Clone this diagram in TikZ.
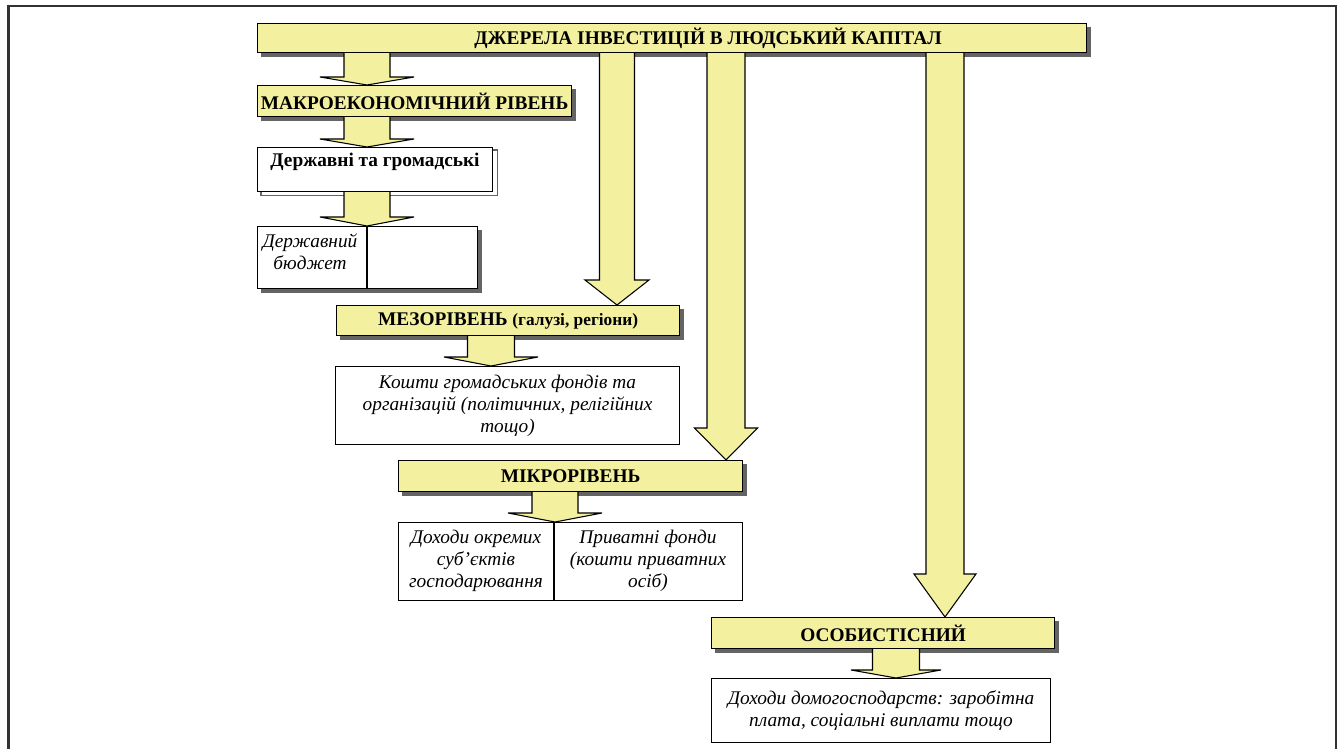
\documentclass[tikz,border=0pt]{standalone}
\usepackage{fontspec}
\setmainfont{Liberation Serif}
\usetikzlibrary{calc}
\pgfdeclarelayer{shad}
\pgfdeclarelayer{arr}
\pgfsetlayers{shad,arr,main}
\definecolor{ylw}{RGB}{243,240,160}
\definecolor{shd}{RGB}{100,100,100}
\definecolor{frm}{RGB}{50,50,50}
\tikzset{
  ybox/.style={draw=black, line width=0.9pt, fill=ylw, inner sep=0pt, anchor=north west,
    font=\bfseries\fontsize{14.5}{16}\selectfont},
  wbox/.style={draw=black, line width=0.8pt, fill=white, inner sep=0pt, anchor=north west,
    align=center, font=\itshape\fontsize{14.5}{16.5}\selectfont},
  btxt/.style={inner sep=0pt, font=\bfseries\fontsize{14.5}{16}\selectfont},
  itxt/.style={inner sep=0pt, align=center, font=\itshape\fontsize{14.5}{16.5}\selectfont},
  barrow/.style={fill=ylw, draw=black, line width=0.8pt, line join=miter},
  shadowfill/.style={fill=shd, draw=none},
  frame/.style={draw=frm, line width=2.2pt},
}
% #1 from, #2 to, #3 centre x (px), #4 shaft half (px), #5 head half (px), #6 head length (px)
\newcommand{\barrow}[6]{%
  \filldraw[barrow] let \p1=(#1.south), \p2=(#2.north) in
    ({(#3-#4)*0.75pt},\y1) -- ({(#3-#4)*0.75pt},{\y2+#6*0.75pt}) --
    ({(#3-#5)*0.75pt},{\y2+#6*0.75pt}) -- ({#3*0.75pt},\y2) --
    ({(#3+#5)*0.75pt},{\y2+#6*0.75pt}) -- ({(#3+#4)*0.75pt},{\y2+#6*0.75pt}) --
    ({(#3+#4)*0.75pt},\y1);
}
% shadow of node #1, offset 4px
\newcommand{\shadowof}[1]{%
  \fill[shadowfill] ($(#1.north west)+(4,4)$) rectangle ($(#1.south east)+(4,4)$);
}
\begin{document}
\begin{tikzpicture}[x=0.75pt,y=-0.75pt]
\useasboundingbox (0,0) rectangle (1340,749);
% frame
\draw[frame] (8.5,749) -- (8.5,6) -- (1336,6) -- (1336,749);

% boxes
\node[ybox, minimum width=829*0.75pt, minimum height=29*0.75pt] (title) at (257,23) {};
\node[btxt] (titletext) at (708,38) {ДЖЕРЕЛА ІНВЕСТИЦІЙ В ЛЮДСЬКИЙ КАПІТАЛ};

\node[ybox, minimum width=314*0.75pt, minimum height=31*0.75pt] (macro) at (257,85) {МАКРОЕКОНОМІЧНИЙ РІВЕНЬ};

\node[wbox, minimum width=235*0.75pt, minimum height=44*0.75pt] (derzh) at (257,147) {};
\node[btxt, anchor=north] (derzhtext) at (375,153) {Державні та громадські};

\node[wbox, minimum width=220*0.75pt, minimum height=62*0.75pt] (budget) at (257,226) {};
\draw[line width=0.8pt] (367,226) -- (367,288);
\node[itxt] (budgettext) at (310,252) {Державний\\бюджет};

\node[ybox, minimum width=343*0.75pt, minimum height=30*0.75pt] (meso) at (336,305)
  {МЕЗОРІВЕНЬ {\fontsize{13}{14}\selectfont(галузі, регіони)}};

\node[wbox, minimum width=344*0.75pt, minimum height=78*0.75pt] (koshty) at (335,366)
  {Кошти громадських фондів та\\організацій (політичних, релігійних\\тощо)};

\node[ybox, minimum width=344*0.75pt, minimum height=31*0.75pt] (micro) at (398,460) {МІКРОРІВЕНЬ};

\node[wbox, minimum width=344*0.75pt, minimum height=78*0.75pt] (micro2) at (398,522) {};
\draw[line width=0.8pt] (554,522) -- (554,600);
\node[itxt] (microleft) at (476,561) {Доходи окремих\\суб’єктів\\господарювання};
\node[itxt] (microright) at (648,561) {Приватні фонди\\(кошти приватних\\осіб)};

\node[ybox, minimum width=343*0.75pt, minimum height=31*0.75pt] (osob) at (711,617) {ОСОБИСТІСНИЙ};

\node[wbox, minimum width=339*0.75pt, minimum height=64*0.75pt] (dohody) at (711,678)
  {Доходи домогосподарств: заробітна\\плата, соціальні виплати тощо};

% shadows
\begin{pgfonlayer}{shad}
  \shadowof{title}
  \shadowof{macro}
  \shadowof{meso}
  \shadowof{micro}
  \shadowof{osob}
  \shadowof{budget}
  \draw[shd, line width=0.8pt, fill=white] ($(derzh.north west)+(4,3)$) rectangle ($(derzh.south east)+(4,3)$);
\end{pgfonlayer}

% arrows
\begin{pgfonlayer}{arr}
  \barrow{title}{macro}{367}{23}{47}{8}
  \barrow{macro}{derzh}{367}{23}{47}{8}
  \barrow{derzh}{budget}{367}{23}{47}{9}
  \barrow{title}{meso}{617}{17.5}{32}{25}
  \barrow{meso}{koshty}{491}{23.5}{47}{9}
  \barrow{title}{micro}{726}{19}{31.5}{32}
  \barrow{micro}{micro2}{555}{23}{47}{9}
  \barrow{title}{osob}{945}{19}{31}{43}
  \barrow{osob}{dohody}{896}{23.5}{45}{8}
\end{pgfonlayer}
\end{tikzpicture}
\end{document}
